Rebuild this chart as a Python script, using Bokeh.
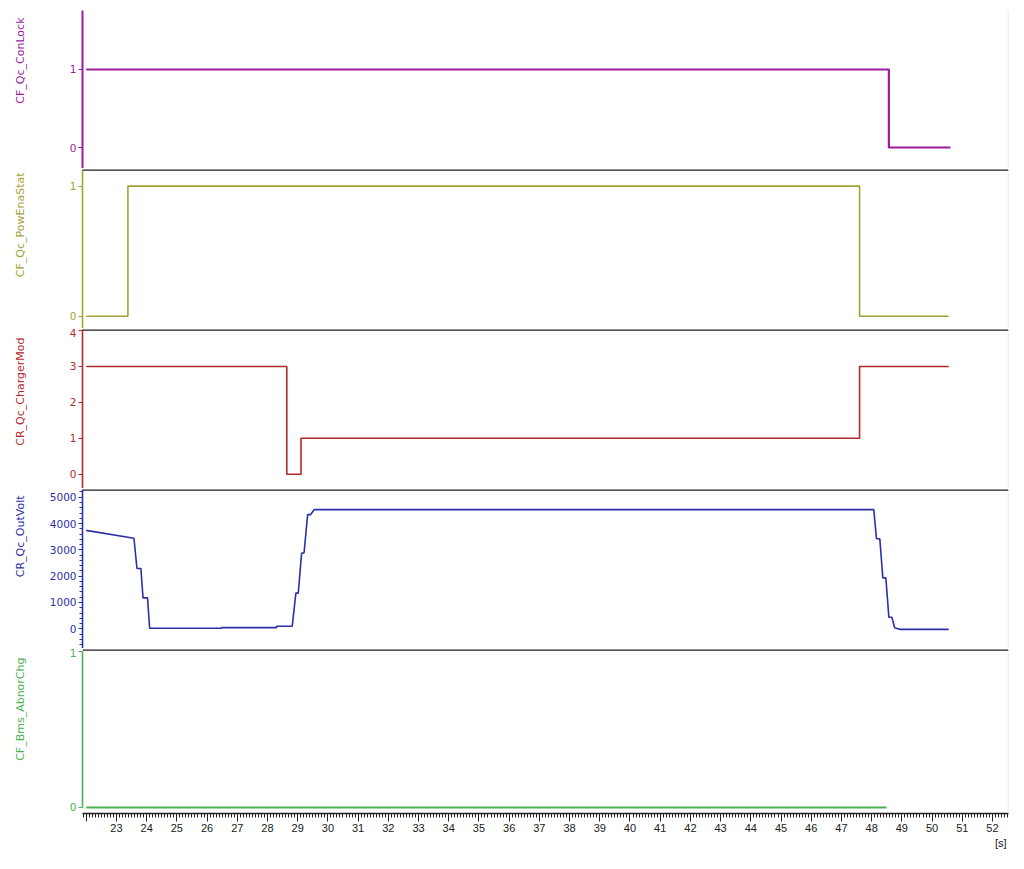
from bokeh.plotting import figure
from bokeh.layouts import column
from bokeh.models import (Range1d, Span, SingleIntervalTicker, FixedTicker,
                          Title, LinearAxis)
from bokeh.embed import file_html
from bokeh.resources import INLINE

# ---------------- data ----------------
signal_names = ["CF_Qc_ConLock", "CF_Qc_PowEnaStat", "CR_Qc_ChargerMod",
                "CR_Qc_OutVolt", "CF_Bms_AbnorChg"]

conlock_t = [22.0, 48.57, 50.61]
conlock_v = [1, 0, 0]

powena_t = [22.0, 23.38, 47.60, 50.55]
powena_v = [0, 1, 0, 0]

chgmod_t = [22.0, 28.64, 29.11, 47.60, 50.55]
chgmod_v = [3, 0, 1, 3, 3]

outvolt_t = [22.0, 23.58, 23.68, 23.81, 23.88, 24.03, 24.10, 26.48, 26.48,
             28.30, 28.30, 28.82, 28.94, 29.02, 29.13, 29.21, 29.33, 29.43,
             29.55, 48.07, 48.16, 48.27, 48.37, 48.47, 48.57, 48.67, 48.76,
             48.93, 50.55]
outvolt_v = [3740, 3440, 2290, 2290, 1175, 1175, 20, 20, 45,
             45, 100, 100, 1355, 1355, 2880, 2880, 4340, 4340,
             4530, 4530, 3420, 3420, 1935, 1935, 437, 437, 40,
             -20, -20]

abnor_t = [22.0, 48.49]
abnor_v = [0, 0]

bin_ticks = [0, 1]
mod_ticks = [0, 1, 2, 3, 4]
volt_tick_step = 1000
time_tick_step = 1
time_unit = "[s]"

colors = ["#9C1C9C", "#A3A335", "#B22A2A", "#2B2FA8", "#4CAF50"]

# ---------------- layout ----------------
X0, X1 = 21.877, 52.53
FW = 926
LEFT = 82
xr = Range1d(X0, X1)

FONT = "DejaVu Sans"


def panel(idx, frame_h, y0, y1, top, spacer_w, title_offset, bottom_axis=False):
    color = colors[idx]
    p = figure(frame_width=FW, frame_height=frame_h, x_range=xr,
               y_range=Range1d(y0, y1), output_backend="svg",
               toolbar_location=None,
               x_axis_location="below" if bottom_axis else None,
               min_border_left=LEFT, min_border_right=8,
               min_border_top=top, min_border_bottom=40 if bottom_axis else 0)
    p.grid.visible = False
    p.outline_line_color = None
    p.background_fill_color = "white"
    p.border_fill_color = "white"

    ya = p.yaxis[0]
    ya.axis_line_color = color
    ya.axis_line_width = 1.6
    ya.major_tick_line_color = color
    ya.major_tick_line_width = 1.2
    ya.major_tick_out = 4
    ya.major_tick_in = 0
    ya.minor_tick_line_color = None
    ya.major_label_text_color = color
    ya.major_label_text_font = FONT
    ya.major_label_text_font_size = "10.5px"
    ya.major_label_standoff = 2

    # blank spacer axis (white tick on white border) that pushes the
    # signal name towards the far left
    spacer = LinearAxis(ticker=FixedTicker(ticks=[0]), axis_line_color=None,
                        major_tick_line_color="white", major_tick_line_width=1,
                        minor_tick_line_color=None,
                        major_tick_out=spacer_w, major_tick_in=0,
                        minor_tick_out=0, minor_tick_in=0,
                        major_label_overrides={0: ""},
                        major_label_text_color=None,
                        major_label_standoff=0)
    p.add_layout(spacer, "left")

    p.add_layout(Title(text=signal_names[idx], align="right",
                       offset=title_offset, standoff=0,
                       text_color=color, text_font=FONT,
                       text_font_size="11px", text_font_style="normal"),
                 "left")

    # faint right border
    p.add_layout(Span(location=X1, dimension="height",
                      line_color="#dbe6f2", line_width=1.5))
    return p


# Panel 1: ConLock
p1 = panel(0, 158, -0.269, 1.756, 10, 40, 7)
p1.yaxis[0].ticker = FixedTicker(ticks=bin_ticks)
p1.yaxis[0].axis_line_width = 2
p1.step(conlock_t, conlock_v, mode="after", line_color=colors[0], line_width=2.2)

# Panel 2: PowEnaStat
p2 = panel(1, 159, -0.0946, 1.128, 1, 40, 3)
p2.yaxis[0].ticker = FixedTicker(ticks=bin_ticks)
p2.step(powena_t, powena_v, mode="after", line_color=colors[1], line_width=1.6)

# Panel 3: ChargerMod
p3 = panel(2, 159, -0.398, 4.028, 1, 40, 8)
p3.yaxis[0].ticker = FixedTicker(ticks=mod_ticks)
p3.step(chgmod_t, chgmod_v, mode="after", line_color=colors[2], line_width=1.6)

# Panel 4: OutVolt
p4 = panel(3, 159, -748, 5293, 1, 20, 6)
p4.yaxis[0].ticker = SingleIntervalTicker(interval=volt_tick_step, num_minor_ticks=5)
p4.yaxis[0].minor_tick_line_color = colors[3]
p4.yaxis[0].minor_tick_out = 3
p4.yaxis[0].minor_tick_in = 0
p4.line(outvolt_t, outvolt_v, line_color=colors[3], line_width=1.6)

# Panel 5: AbnorChg (with time axis)
p5 = panel(4, 164, -0.0385, 1.0128, 1, 40, 8, bottom_axis=True)
p5.yaxis[0].ticker = FixedTicker(ticks=bin_ticks)
p5.yaxis[0].bounds = (0, 1)
p5.line(abnor_t, abnor_v, line_color=colors[4], line_width=2.2)

xa = p5.xaxis[0]
xa.ticker = SingleIntervalTicker(interval=time_tick_step, num_minor_ticks=10)
xa.major_label_overrides = {22: ""}
xa.axis_line_color = "#202020"
xa.axis_line_width = 1.5
xa.major_tick_line_color = "#202020"
xa.minor_tick_line_color = "#202020"
xa.major_tick_out = 8
xa.major_tick_in = 0
xa.minor_tick_out = 4
xa.minor_tick_in = 0
xa.major_label_text_font = "Liberation Sans"
xa.major_label_text_font_size = "11px"
xa.major_label_text_color = "#202020"
xa.major_label_standoff = 2

p5.add_layout(Title(text=time_unit, align="right", offset=2, standoff=0,
                    text_color="#202020", text_font="Liberation Sans",
                    text_font_size="11px", text_font_style="normal"),
              "below")

# dark separators at the top of panels 2-5
for p in (p2, p3, p4, p5):
    p.add_layout(Span(location=p.y_range.end, dimension="width",
                      line_color="#1e1e1e", line_width=2.5))

layout = column(p1, p2, p3, p4, p5, spacing=0)
open("out.html", "w").write(file_html(layout, INLINE))
